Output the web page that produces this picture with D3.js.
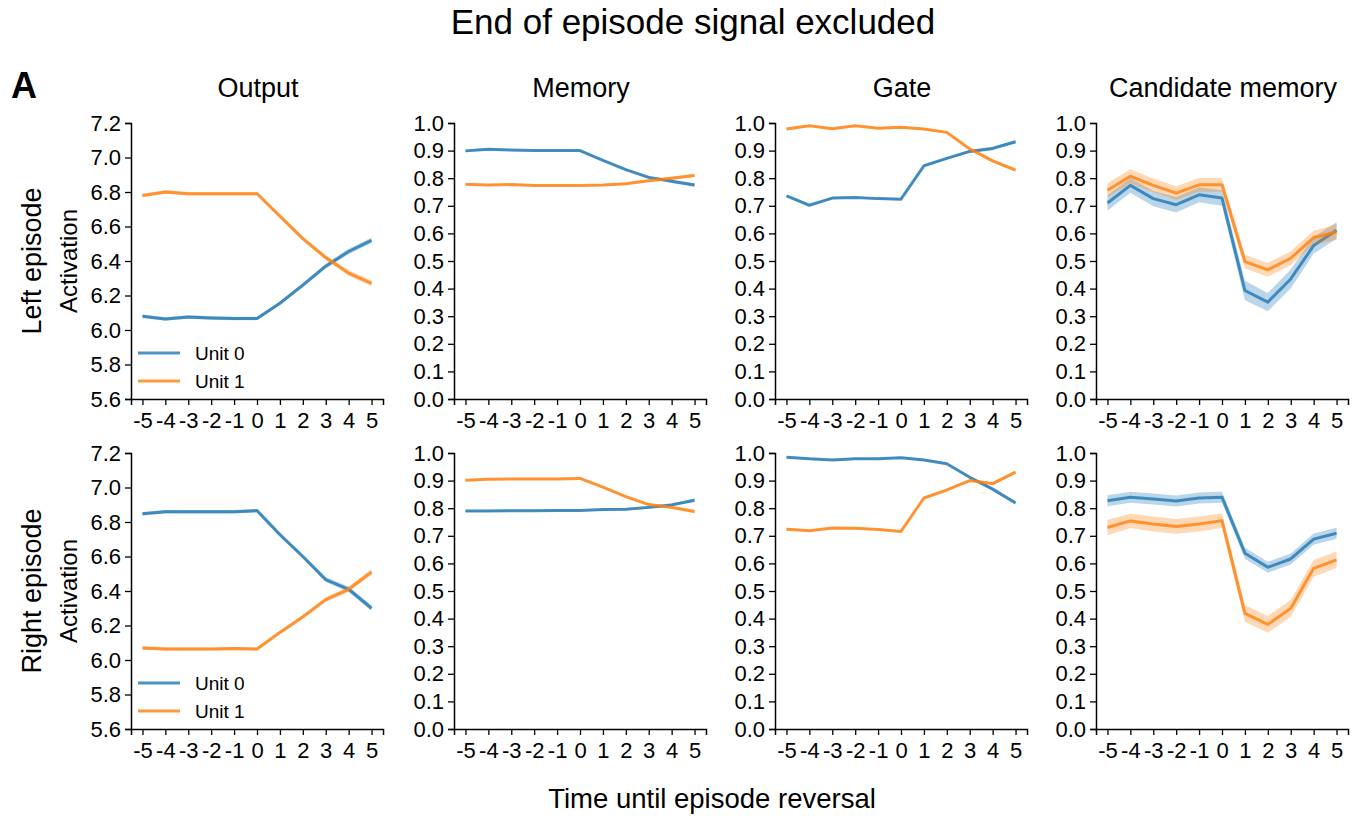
<!DOCTYPE html>
<html>
<head>
<meta charset="utf-8">
<script src="https://cdn.jsdelivr.net/npm/d3@7"></script>
<style>
  body { margin: 0; background: #fff; }
  svg { font-family: "Liberation Sans", Arial, sans-serif; }
</style>
</head>
<body>
<svg id="chart" width="1360" height="816"></svg>
<script>
// ---- data ----
const timeSteps = [-5, -4, -3, -2, -1, 0, 1, 2, 3, 4, 5];
const panelTitles = ["Output", "Memory", "Gate", "Candidate memory"];
const rowLabels = ["Left episode", "Right episode"];
const unitNames = ["Unit 0", "Unit 1"];
const outputTicks = [5.6, 5.8, 6.0, 6.2, 6.4, 6.6, 6.8, 7.0, 7.2];
const unitTicks = [0.0, 0.1, 0.2, 0.3, 0.4, 0.5, 0.6, 0.7, 0.8, 0.9, 1.0];

// left episode
const leftOutput0 = [6.08, 6.064, 6.075, 6.07, 6.067, 6.067, 6.155, 6.26, 6.37, 6.455, 6.52];
const leftOutput1 = [6.78, 6.80, 6.79, 6.79, 6.79, 6.79, 6.66, 6.53, 6.42, 6.33, 6.27];
const leftMemory0 = [0.899, 0.905, 0.902, 0.90, 0.90, 0.90, 0.865, 0.831, 0.803, 0.789, 0.775];
const leftMemory1 = [0.778, 0.775, 0.777, 0.774, 0.774, 0.774, 0.775, 0.780, 0.791, 0.80, 0.81];
const leftGate0 = [0.736, 0.702, 0.728, 0.73, 0.726, 0.724, 0.845, 0.872, 0.897, 0.908, 0.932];
const leftGate1 = [0.978, 0.99, 0.979, 0.99, 0.981, 0.985, 0.978, 0.966, 0.906, 0.863, 0.829];
const leftCand0 = [0.71, 0.774, 0.726, 0.704, 0.74, 0.728, 0.393, 0.351, 0.435, 0.556, 0.611];
const leftCand1 = [0.756, 0.807, 0.774, 0.746, 0.776, 0.776, 0.498, 0.468, 0.51, 0.585, 0.605];

// right episode
const rightOutput0 = [6.848, 6.86, 6.86, 6.86, 6.86, 6.866, 6.727, 6.60, 6.466, 6.41, 6.30];
const rightOutput1 = [6.07, 6.064, 6.064, 6.064, 6.066, 6.064, 6.16, 6.25, 6.35, 6.41, 6.51];
const rightMemory0 = [0.79, 0.79, 0.791, 0.791, 0.792, 0.792, 0.795, 0.796, 0.803, 0.812, 0.829];
const rightMemory1 = [0.901, 0.905, 0.906, 0.906, 0.906, 0.908, 0.876, 0.842, 0.813, 0.803, 0.788];
const rightGate0 = [0.985, 0.979, 0.975, 0.979, 0.979, 0.983, 0.975, 0.961, 0.912, 0.869, 0.819];
const rightGate1 = [0.724, 0.718, 0.728, 0.727, 0.723, 0.716, 0.837, 0.866, 0.90, 0.889, 0.931];
const rightCand0 = [0.827, 0.84, 0.833, 0.826, 0.837, 0.84, 0.637, 0.586, 0.616, 0.688, 0.709];
const rightCand1 = [0.73, 0.754, 0.743, 0.734, 0.743, 0.755, 0.419, 0.379, 0.437, 0.582, 0.613];

// shaded error (half width)
const outputSem = [0.01, 0.01, 0.01, 0.01, 0.01, 0.01, 0.01, 0.012, 0.014, 0.016, 0.016];
const smallSem = [0.004, 0.004, 0.004, 0.004, 0.004, 0.004, 0.004, 0.004, 0.005, 0.006, 0.006];
const leftCandSem0 = [0.028, 0.027, 0.028, 0.028, 0.027, 0.028, 0.035, 0.033, 0.035, 0.03, 0.03];
const leftCandSem1 = [0.026, 0.025, 0.025, 0.025, 0.025, 0.025, 0.025, 0.025, 0.025, 0.025, 0.028];
const rightCandSem0 = [0.02, 0.02, 0.02, 0.02, 0.02, 0.02, 0.02, 0.02, 0.02, 0.02, 0.02];
const rightCandSem1 = [0.028, 0.026, 0.027, 0.027, 0.027, 0.027, 0.03, 0.03, 0.03, 0.03, 0.03];

const rows = [
    [
        {ticks: outputTicks, series: [leftOutput0, leftOutput1], sem: [outputSem, outputSem], legend: true},
        {ticks: unitTicks, series: [leftMemory0, leftMemory1], sem: [smallSem, smallSem]},
        {ticks: unitTicks, series: [leftGate0, leftGate1], sem: [smallSem, smallSem]},
        {ticks: unitTicks, series: [leftCand0, leftCand1], sem: [leftCandSem0, leftCandSem1]}
    ],
    [
        {ticks: outputTicks, series: [rightOutput0, rightOutput1], sem: [outputSem, outputSem], legend: true},
        {ticks: unitTicks, series: [rightMemory0, rightMemory1], sem: [smallSem, smallSem]},
        {ticks: unitTicks, series: [rightGate0, rightGate1], sem: [smallSem, smallSem]},
        {ticks: unitTicks, series: [rightCand0, rightCand1], sem: [rightCandSem0, rightCandSem1]}
    ]
];

const colors = ["#1f77b4", "#ff7f0e"];

// ---- layout ----
const colLeft = [131, 454, 775, 1096];
const rowTop = [123, 453];
const plotW = 252;
const plotH = 276;
const tickFont = 22;

const svg = d3.select("#chart");

svg.append("text")
    .attr("x", 693).attr("y", 34)
    .attr("text-anchor", "middle")
    .attr("font-size", 35)
    .text("End of episode signal excluded");

svg.append("text")
    .attr("x", 11).attr("y", 98)
    .attr("font-size", 36)
    .attr("font-weight", "bold")
    .text("A");

panelTitles.forEach((t, i) => {
    svg.append("text")
        .attr("x", colLeft[i] + plotW / 2 + 1).attr("y", 97)
        .attr("text-anchor", "middle")
        .attr("font-size", 27)
        .text(t);
});

rowLabels.forEach((t, r) => {
    const cy = rowTop[r] + plotH / 2;
    svg.append("text")
        .attr("transform", `translate(41, ${cy}) rotate(-90)`)
        .attr("text-anchor", "middle")
        .attr("font-size", 27)
        .text(t);
    svg.append("text")
        .attr("transform", `translate(77, ${cy}) rotate(-90)`)
        .attr("text-anchor", "middle")
        .attr("font-size", 24)
        .text("Activation");
});

svg.append("text")
    .attr("x", 712).attr("y", 808)
    .attr("text-anchor", "middle")
    .attr("font-size", 27.5)
    .text("Time until episode reversal");

const scaleX = d3.scaleLinear().domain([-5.5, 5.5]).range([0, plotW]);

rows.forEach((row, r) => {
    row.forEach((panel, c) => {
        const g = svg.append("g")
            .attr("transform", `translate(${colLeft[c]}, ${rowTop[r]})`);

        const scaleY = d3.scaleLinear()
            .domain(d3.extent(panel.ticks))
            .range([plotH, 0]);

        const line = d3.line()
            .x((d, i) => scaleX(timeSteps[i]))
            .y(d => scaleY(d));

        const area = d3.area()
            .x(d => scaleX(d.t))
            .y0(d => scaleY(d.v - d.e))
            .y1(d => scaleY(d.v + d.e));

        panel.series.forEach((vals, k) => {
            const pts = vals.map((v, i) => ({t: timeSteps[i], v: v, e: panel.sem[k][i]}));
            g.append("path")
                .attr("d", area(pts))
                .attr("fill", colors[k])
                .attr("fill-opacity", 0.3);
            g.append("path")
                .attr("d", line(vals))
                .attr("fill", "none")
                .attr("stroke", colors[k])
                .attr("stroke-opacity", 0.8)
                .attr("stroke-width", 3)
                .attr("stroke-linejoin", "round");
        });

        const yAxis = d3.axisLeft(scaleY)
            .tickValues(panel.ticks)
            .tickFormat(d3.format(".1f"))
            .tickSizeOuter(0)
            .tickSize(6)
            .tickPadding(4);

        const xAxis = d3.axisBottom(scaleX)
            .tickValues(timeSteps)
            .tickFormat(d => String(d))
            .tickSizeOuter(0)
            .tickSize(6)
            .tickPadding(7);

        const ya = g.append("g").call(yAxis);
        const xa = g.append("g").attr("transform", `translate(0, ${plotH})`).call(xAxis);

        [ya, xa].forEach(a => {
            a.select(".domain").attr("stroke", "#000").attr("stroke-width", 1.5);
            a.selectAll(".tick line").attr("stroke", "#000").attr("stroke-width", 1.3);
            a.selectAll(".tick text")
                .attr("fill", "#000")
                .attr("font-size", tickFont)
                .attr("font-family", "'Liberation Sans', Arial, sans-serif");
        });

        if (panel.legend) {
            const lg = g.append("g").attr("transform", "translate(7, 230)");
            unitNames.forEach((name, k) => {
                const y = k * 28;
                lg.append("line")
                    .attr("x1", 0).attr("x2", 42)
                    .attr("y1", y).attr("y2", y)
                    .attr("stroke", colors[k])
                    .attr("stroke-opacity", 0.8)
                    .attr("stroke-width", 3);
                lg.append("text")
                    .attr("x", 57).attr("y", y + 7)
                    .attr("font-size", 19)
                    .text(name);
            });
        }
    });
});
</script>
</body>
</html>
